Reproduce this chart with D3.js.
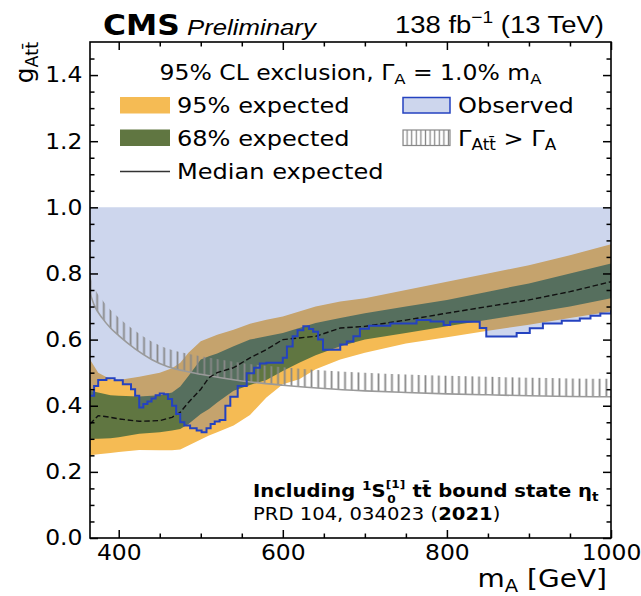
<!DOCTYPE html>
<html>
<head>
<meta charset="utf-8">
<script src="https://cdn.jsdelivr.net/npm/d3@7"></script>
<style>
  body { margin: 0; background: #fff; }
  text { font-family: "DejaVu Sans", sans-serif; fill: #000; }
</style>
</head>
<body>
<script>
// expected limits (95% CL)
const massExp = [365, 375, 390, 400, 425, 450, 465, 475, 485, 500, 510, 520, 540, 560, 580, 600, 620, 640, 670, 700, 750, 800, 850, 900, 950, 1000];
const exp95Up = [0.54, 0.50, 0.48, 0.478, 0.488, 0.50, 0.513, 0.53, 0.56, 0.595, 0.605, 0.615, 0.63, 0.648, 0.66, 0.67, 0.685, 0.70, 0.715, 0.725, 0.75, 0.775, 0.80, 0.825, 0.855, 0.888];
const exp68Up = [0.445, 0.44, 0.432, 0.43, 0.428, 0.432, 0.44, 0.458, 0.49, 0.54, 0.55, 0.558, 0.58, 0.60, 0.61, 0.62, 0.635, 0.65, 0.665, 0.68, 0.70, 0.72, 0.745, 0.77, 0.80, 0.83];
const expMedian = [0.345, 0.37, 0.365, 0.36, 0.353, 0.355, 0.365, 0.38, 0.41, 0.45, 0.485, 0.50, 0.515, 0.545, 0.57, 0.60, 0.605, 0.61, 0.635, 0.64, 0.659, 0.68, 0.70, 0.72, 0.745, 0.775];
const exp68Down = [0.30, 0.30, 0.302, 0.305, 0.315, 0.32, 0.325, 0.33, 0.345, 0.375, 0.39, 0.41, 0.445, 0.463, 0.478, 0.505, 0.53, 0.553, 0.58, 0.60, 0.62, 0.64, 0.66, 0.68, 0.70, 0.725];
const exp95Down = [0.25, 0.253, 0.257, 0.26, 0.266, 0.265, 0.265, 0.268, 0.28, 0.298, 0.31, 0.32, 0.34, 0.372, 0.425, 0.465, 0.48, 0.51, 0.54, 0.56, 0.588, 0.607, 0.627, 0.645, 0.665, 0.685];

// observed limit
const massObs = [365, 370, 375, 385, 395, 405, 415, 420, 425, 430, 435, 440, 445, 450, 455, 460, 465, 470, 475, 480, 487, 495, 501, 507, 512, 517, 523, 530, 536, 545, 556, 565, 572, 580, 597, 600, 605, 612, 618, 625, 632, 637, 643, 649, 661, 670, 678, 686, 694, 705, 731, 763, 780, 796, 804, 832, 840, 848, 877, 885, 901, 917, 940, 962, 975, 987, 1000];
const obsLimit = [0.43, 0.46, 0.478, 0.483, 0.477, 0.465, 0.45, 0.43, 0.395, 0.405, 0.413, 0.422, 0.432, 0.437, 0.435, 0.42, 0.40, 0.375, 0.35, 0.34, 0.332, 0.325, 0.32, 0.332, 0.345, 0.352, 0.357, 0.40, 0.427, 0.46, 0.498, 0.515, 0.528, 0.53, 0.53, 0.545, 0.579, 0.61, 0.628, 0.64, 0.632, 0.624, 0.60, 0.569, 0.569, 0.585, 0.594, 0.61, 0.633, 0.642, 0.649, 0.659, 0.655, 0.644, 0.654, 0.654, 0.635, 0.609, 0.609, 0.62, 0.634, 0.649, 0.657, 0.664, 0.672, 0.679, 0.689];
const obsCeiling = 1.0;

// coupling where the A -> tt width exceeds the total width
const massWidth = [365, 370, 380, 390, 400, 420, 440, 460, 480, 500, 550, 600, 650, 700, 750, 800, 850, 900, 950, 1000];
const widthLimit = [0.74, 0.705, 0.665, 0.635, 0.612, 0.572, 0.54, 0.518, 0.505, 0.495, 0.475, 0.462, 0.452, 0.445, 0.44, 0.436, 0.433, 0.43, 0.428, 0.427];

const xMajor = [400, 600, 800, 1000];
const xMinor = [450, 500, 550, 650, 700, 750, 850, 900, 950];
const yMajor = [0.0, 0.2, 0.4, 0.6, 0.8, 1.0, 1.2, 1.4];
const yMinor = [0.05, 0.1, 0.15, 0.25, 0.3, 0.35, 0.45, 0.5, 0.55, 0.65, 0.7, 0.75, 0.85, 0.9, 0.95, 1.05, 1.1, 1.15, 1.25, 1.3, 1.35, 1.45];

const w = 641, h = 596;
const SX = 1.12; // the figure's lettering is a bit wide
const cOrange = "#f5bb54", cGreen = "#607641", cObsFill = "rgba(55,91,183,0.25)", cObsLine = "#2442c0", cHatch = "#888";

const expData = massExp.map((m, i) => ({ m, u95: exp95Up[i], u68: exp68Up[i], med: expMedian[i], d68: exp68Down[i], d95: exp95Down[i] }));
const obsData = massObs.map((m, i) => ({ m, g: obsLimit[i] }));
const widthData = massWidth.map((m, i) => ({ m, g: widthLimit[i] }));

const x = d3.scaleLinear().domain([365, 1000]).range([90, 611]);
const y = d3.scaleLinear().domain([0, 1.5]).range([538, 42]);

const svg = d3.select("body").append("svg").attr("width", w).attr("height", h);
const defs = svg.append("defs");
defs.append("clipPath").attr("id", "plotclip").append("rect")
  .attr("x", x.range()[0]).attr("y", y.range()[1])
  .attr("width", x.range()[1] - x.range()[0]).attr("height", y.range()[0] - y.range()[1]);

function hatch(id, step, sw) {
  defs.append("pattern").attr("id", id).attr("patternUnits", "userSpaceOnUse")
    .attr("width", step).attr("height", 20)
    .append("line").attr("x1", step / 2).attr("x2", step / 2).attr("y1", 0).attr("y2", 20)
    .attr("stroke", cHatch).attr("stroke-width", sw);
}
hatch("vhatch", 6.7, 1.8);
hatch("vhatchLeg", 4.6, 1.3);

const plot = svg.append("g").attr("clip-path", "url(#plotclip)");

const band = (lo, hi) => d3.area().x(d => x(d.m)).y0(d => y(d[lo])).y1(d => y(d[hi]));
plot.append("path").datum(expData).attr("d", band("d95", "u95")).attr("fill", cOrange);
plot.append("path").datum(expData).attr("d", band("d68", "u68")).attr("fill", cGreen);

plot.append("path").datum(obsData)
  .attr("d", d3.area().curve(d3.curveStepAfter).x(d => x(d.m)).y0(d => y(d.g)).y1(() => y(obsCeiling)))
  .attr("fill", cObsFill);

// hatched strip above the width curve
plot.append("path").datum(widthData)
  .attr("d", d3.area().curve(d3.curveMonotoneX).x(d => x(d.m)).y0(d => y(d.g)).y1(d => y(d.g) - 18))
  .attr("fill", "url(#vhatch)");
plot.append("path").datum(widthData)
  .attr("d", d3.line().curve(d3.curveMonotoneX).x(d => x(d.m)).y(d => y(d.g)))
  .attr("fill", "none").attr("stroke", "#9a9a9a").attr("stroke-width", 1.6);

plot.append("path").datum(expData)
  .attr("d", d3.line().x(d => x(d.m)).y(d => y(d.med)))
  .attr("fill", "none").attr("stroke", "#111").attr("stroke-width", 1.4).attr("stroke-dasharray", "5.5,2.8");

plot.append("path").datum(obsData)
  .attr("d", d3.line().curve(d3.curveStepAfter).x(d => x(d.m)).y(d => y(d.g)))
  .attr("fill", "none").attr("stroke", cObsLine).attr("stroke-width", 2);

// axes, ticks inward on all sides
function axis(gen, tr, vals, size, labels) {
  const g = svg.append("g").attr("transform", tr)
    .call(gen.tickValues(vals).tickSize(size).tickPadding(7)
      .tickFormat(labels ? labels : ""));
  g.select(".domain").remove();
  g.selectAll(".tick line").attr("stroke", "#000").attr("stroke-width", 1.5);
  g.selectAll("text").attr("font-size", 21.5).attr("font-family", "DejaVu Sans").attr("fill", "#000")
    .attr("transform", "scale(1.09,1)");
  return g;
}
const xb = axis(d3.axisBottom(x), `translate(0,${y.range()[0]})`, xMajor, -8, d3.format("d"));
xb.selectAll("text").attr("dy", "0.78em").attr("y", 5);
axis(d3.axisBottom(x), `translate(0,${y.range()[0]})`, xMinor, -4.5, null);
axis(d3.axisTop(x), `translate(0,${y.range()[1]})`, xMajor, -8, null);
axis(d3.axisTop(x), `translate(0,${y.range()[1]})`, xMinor, -4.5, null);
axis(d3.axisLeft(y), `translate(${x.range()[0]},0)`, yMajor, -8, d3.format(".1f"));
axis(d3.axisLeft(y), `translate(${x.range()[0]},0)`, yMinor, -4.5, null);
axis(d3.axisRight(y), `translate(${x.range()[1]},0)`, yMajor, -8, null);
axis(d3.axisRight(y), `translate(${x.range()[1]},0)`, yMinor, -4.5, null);

svg.append("rect")
  .attr("x", x.range()[0]).attr("y", y.range()[1])
  .attr("width", x.range()[1] - x.range()[0]).attr("height", y.range()[0] - y.range()[1])
  .attr("fill", "none").attr("stroke", "#000").attr("stroke-width", 1.6);

// text with sub/superscripts, stretched a little horizontally
function rich(px, py, size, parts, o = {}) {
  const g = svg.append("g").attr("transform", `translate(${px},${py}) rotate(${o.rotate || 0}) scale(${o.sx || SX},1)`);
  const t = g.append("text").attr("font-size", size).attr("text-anchor", o.anchor || "start");
  if (o.family) t.style("font-family", o.family);
  if (o.bold) t.attr("font-weight", "bold");
  if (o.italic) t.attr("font-style", "italic");
  let shift = 0;
  parts.forEach(p => {
    if (typeof p === "string") p = { t: p };
    let target = p.sub ? size * 0.2 : p.sup ? -size * 0.4 : 0;
    if (p.shift !== undefined) target = size * p.shift;
    const ts = t.append("tspan").attr("dy", target - shift)
      .attr("font-size", p.sub || p.sup ? size * (p.scale || 0.7) : size).text(p.t);
    if (p.dx) ts.attr("dx", p.dx);
    if (p.bold) ts.attr("font-weight", "bold");
    shift = target;
  });
  return t;
}

rich(103, 35, 28, ["CMS"], { bold: true });
rich(187, 35, 23, ["Preliminary"], { italic: true, family: "Liberation Sans" });
rich(604, 33, 24.5, ["138 fb", { t: "\u22121", sup: true }, " (13 TeV)"], { anchor: "end", family: "Liberation Sans" });

rich(607, 587, 25, ["m", { t: "A", sub: true }, " [GeV]"], { anchor: "end" });
rich(33, 42, 25, ["g", { t: "Att\u0304", sub: true }], { anchor: "end", rotate: -90, sx: 1 });

// legend
rich(350.5, 80, 21, ["95% CL exclusion, \u0393", { t: "A", sub: true }, " =  1.0% m", { t: "A", sub: true }], { anchor: "middle" });
svg.append("rect").attr("x", 120).attr("y", 97).attr("width", 50).attr("height", 16.5).attr("fill", cOrange);
rich(177, 113, 21.5, ["95% expected"]);
svg.append("rect").attr("x", 120).attr("y", 129.5).attr("width", 50).attr("height", 16.5).attr("fill", cGreen);
rich(177, 146, 21.5, ["68% expected"]);
svg.append("line").attr("x1", 120).attr("x2", 170).attr("y1", 171.5).attr("y2", 171.5).attr("stroke", "#333").attr("stroke-width", 1.5);
rich(177, 178.5, 21.5, ["Median expected"]);

svg.append("rect").attr("x", 403).attr("y", 97.5).attr("width", 47).attr("height", 15.5)
  .attr("fill", cObsFill).attr("stroke", cObsLine).attr("stroke-width", 1.5);
rich(458, 113, 21.5, ["Observed"]);
svg.append("rect").attr("x", 403).attr("y", 130).attr("width", 47).attr("height", 15.5)
  .attr("fill", "url(#vhatchLeg)").attr("stroke", cHatch).attr("stroke-width", 1.2);
rich(458, 146, 21.5, ["\u0393", { t: "Att\u0304", sub: true }, " > \u0393", { t: "A", sub: true }]);

// annotation
rich(253, 497, 17.5, ["Including ", { t: "1", sup: true }, "S", { t: "[1]", sup: true, shift: -0.52, scale: 0.62 },
  { t: "0", sub: true, shift: 0.32, scale: 0.62, dx: -16 },
  { t: " t", dx: 9 }, "t\u0304 bound state \u03b7", { t: "t", sub: true }], { bold: true });
rich(253, 520, 17.5, ["PRD 104, 034023 (", { t: "2021", bold: true }, ")"]);
</script>
</body>
</html>
